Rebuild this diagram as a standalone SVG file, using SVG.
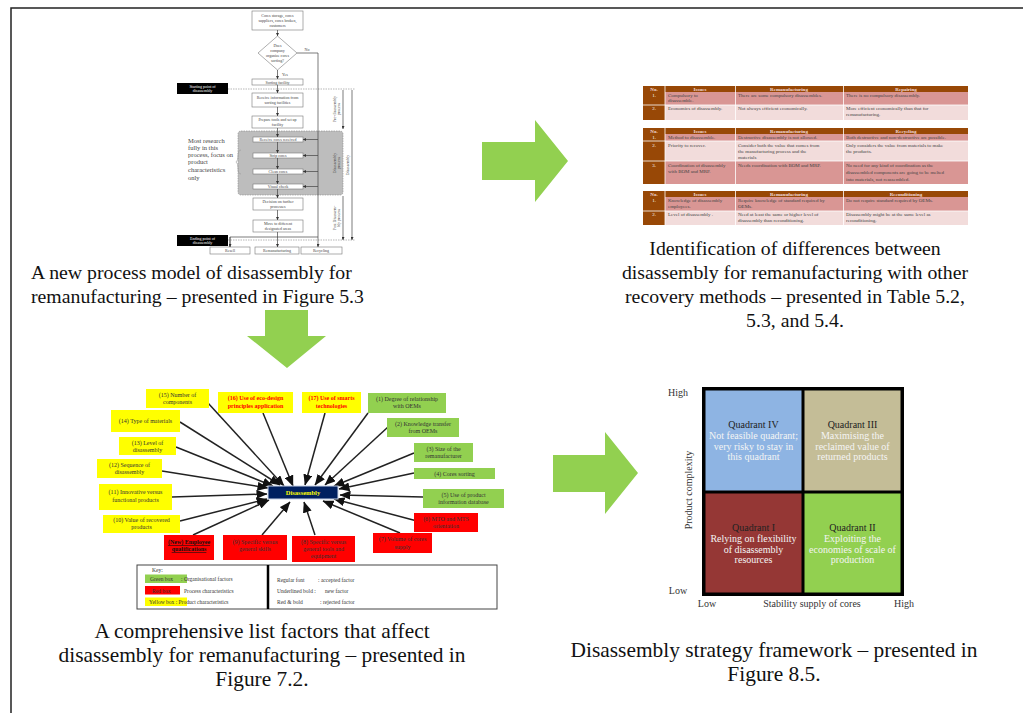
<svg xmlns="http://www.w3.org/2000/svg" width="1023" height="713" viewBox="0 0 1023 713">
<defs>
  <marker id="ah" markerUnits="userSpaceOnUse" markerWidth="11" markerHeight="9" refX="10.5" refY="4.5" orient="auto">
    <path d="M0,0 L11,4.5 L0,9 Z" fill="#111"/>
  </marker>
  <marker id="fa" markerUnits="userSpaceOnUse" markerWidth="3" markerHeight="3" refX="3" refY="1.5" orient="auto">
    <path d="M0,0 L3,1.5 L0,3 Z" fill="#333"/>
  </marker>
</defs>
<style>
  text { font-family: "Liberation Serif", "Times New Roman", serif; }
  .cap { font-size: 19.8px; fill: #111; }
  .cap.lg { font-size: 21.4px; }
  .fc .b { fill: #fff; stroke: #777; stroke-width: 0.6; }
  .fc .k { fill: #000; }
  .fc text { font-size: 4px; fill: #444; text-anchor: middle; }
  .fc .kt { fill: #fff; }
  .fc .ln { stroke: #444; stroke-width: 0.7; fill: none; }
  .fc .dash { stroke: #888; stroke-width: 0.6; stroke-dasharray: 1.5 1; }
  .tb text { font-size: 5px; fill: #444; }
  .tb .h { fill: #984806; }
  .tb .d { fill: #d99694; }
  .tb .l { fill: #f2dcdb; }
  .tb .ht { fill: #f2dcdb; font-weight: bold; text-anchor: middle; }
  .tb .nt { fill: #fff; text-anchor: middle; }
  .blk { fill: #92d050; }
  .fb text { font-size: 6px; fill: #333; text-anchor: middle; }
  .fb .rj { fill: #ff0000; font-weight: bold; }
  .fb .nw { fill: #111; font-weight: bold; text-decoration: underline; }
  .y { fill: #ffff00; }
  .r { fill: #ff0000; }
  .g { fill: #92d050; }
  .conn line { stroke: #222; stroke-width: 1.5; marker-end: url(#ah); }
  .key text { font-size: 5.5px; fill: #333; }
  .q text { font-size: 10px; text-anchor: middle; }
  .q .qt { fill: #222; }
  .q .qw { fill: #f4f4f4; }
  .ax { font-size: 9.5px; fill: #333; }
</style>

<!-- page frame -->
<path d="M11,713 L11,8 L1023,8" fill="none" stroke="#222" stroke-width="1.5"/>

<!-- process model flowchart -->
<g id="process-model" class="fc">
  <rect x="238" y="131" width="105" height="64" rx="3" fill="#bdbdbd" stroke="#888" stroke-width="0.6" stroke-dasharray="1.5 1"/>
  <path d="M241,150 Q238,150 238,156 Q238,161 236,162 Q238,163 238,168 Q238,174 241,174" fill="none" stroke="#999" stroke-width="0.6"/>

  <rect class="b" x="252" y="11" width="51" height="19"/>
  <text x="277.5" y="17">Cores storage, cores</text>
  <text x="277.5" y="22">suppliers, cores broken,</text>
  <text x="277.5" y="27">customers</text>

  <polygon class="b" points="277.5,36 297,53 277.5,70 258,53"/>
  <text x="277.5" y="47">Does</text>
  <text x="277.5" y="52">company</text>
  <text x="277.5" y="57">organize cores</text>
  <text x="277.5" y="62">sorting?</text>
  <text x="307" y="51">No</text>
  <text x="285" y="76">Yes</text>

  <rect class="b" x="252" y="79" width="51" height="6"/>
  <text x="277.5" y="83.5">Sorting facility</text>
  <rect class="b" x="252" y="93" width="51" height="14"/>
  <text x="277.5" y="99">Receive information from</text>
  <text x="277.5" y="104">sorting facilities</text>
  <rect class="b" x="252" y="116" width="51" height="12"/>
  <text x="277.5" y="121">Prepare tools and set up</text>
  <text x="277.5" y="126">facility</text>

  <rect class="b" x="253" y="137" width="50" height="5"/>
  <text x="278" y="141">Receive cores received</text>
  <rect class="b" x="253" y="153" width="50" height="5"/>
  <text x="278" y="157">Strip cores</text>
  <rect class="b" x="253" y="169" width="50" height="5"/>
  <text x="278" y="173">Clean cores</text>
  <rect class="b" x="253" y="184" width="50" height="5"/>
  <text x="278" y="188">Visual check</text>

  <rect class="b" x="253" y="198" width="50" height="12"/>
  <text x="278" y="203">Decision on further</text>
  <text x="278" y="208">processes</text>
  <rect class="b" x="253" y="220" width="50" height="12"/>
  <text x="278" y="225">Move to different</text>
  <text x="278" y="230">designated areas</text>

  <rect class="b" x="210" y="247" width="40" height="7"/>
  <text x="230" y="252">Resell</text>
  <rect class="b" x="255" y="247" width="44" height="7"/>
  <text x="277" y="252">Remanufacturing</text>
  <rect class="b" x="301" y="247" width="41" height="7"/>
  <text x="321" y="252">Recycling</text>

  <rect class="k" x="177" y="83" width="51" height="11"/>
  <text class="kt" x="202.5" y="87.5">Starting point of</text>
  <text class="kt" x="202.5" y="92">disassembly</text>
  <rect class="k" x="177" y="235" width="51" height="11"/>
  <text class="kt" x="202.5" y="239.5">Ending point of</text>
  <text class="kt" x="202.5" y="244">disassembly</text>

  <line class="dash" x1="228" y1="89" x2="355" y2="89"/>
  <line class="dash" x1="228" y1="240" x2="355" y2="240"/>

  <g class="ln">
    <line x1="277.5" y1="30" x2="277.5" y2="36" marker-end="url(#fa)"/>
    <line x1="277.5" y1="70" x2="277.5" y2="79" marker-end="url(#fa)"/>
    <line x1="277.5" y1="85" x2="277.5" y2="93" marker-end="url(#fa)"/>
    <line x1="277.5" y1="107" x2="277.5" y2="116" marker-end="url(#fa)"/>
    <line x1="277.5" y1="128" x2="277.5" y2="137" marker-end="url(#fa)"/>
    <line x1="277.5" y1="142" x2="277.5" y2="153" marker-end="url(#fa)"/>
    <line x1="277.5" y1="158" x2="277.5" y2="169" marker-end="url(#fa)"/>
    <line x1="277.5" y1="174" x2="277.5" y2="184" marker-end="url(#fa)"/>
    <line x1="277.5" y1="189" x2="277.5" y2="198" marker-end="url(#fa)"/>
    <line x1="277.5" y1="210" x2="277.5" y2="220" marker-end="url(#fa)"/>
    <line x1="277.5" y1="232" x2="277.5" y2="247" marker-end="url(#fa)"/>
    <polyline points="230,247 230,237 318,237"/>
    <line x1="230" y1="237" x2="230" y2="247" marker-end="url(#fa)"/>
    <polyline points="297,53 318,53 318,247" marker-end="url(#fa)"/>
    <line x1="318" y1="139.5" x2="303" y2="139.5" marker-end="url(#fa)"/>
    <line x1="318" y1="155.5" x2="303" y2="155.5" marker-end="url(#fa)"/>
    <line x1="318" y1="171.5" x2="303" y2="171.5" marker-end="url(#fa)"/>
    <line x1="318" y1="186.5" x2="303" y2="186.5" marker-end="url(#fa)"/>
    <line x1="343" y1="90" x2="343" y2="129" marker-end="url(#fa)"/>
    <line x1="343" y1="196" x2="343" y2="240" marker-end="url(#fa)"/>
    <line x1="352" y1="90" x2="352" y2="240" marker-end="url(#fa)"/>
  </g>

  <text transform="translate(336,109) rotate(-90)">Pre-disassembly</text>
  <text transform="translate(340,109) rotate(-90)">process</text>
  <text transform="translate(336,163) rotate(-90)">Disassembly</text>
  <text transform="translate(340,163) rotate(-90)">process</text>
  <text transform="translate(336,218) rotate(-90)">Post Disassem-</text>
  <text transform="translate(340,218) rotate(-90)">bly process</text>
  <text transform="translate(349,165) rotate(-90)">Disassembly</text>

  <g style="font-size:6.5px;text-anchor:start;fill:#333">
    <text x="188" y="143" style="font-size:6.5px;text-anchor:start">Most research</text>
    <text x="188" y="150" style="font-size:6.5px;text-anchor:start">fully in this</text>
    <text x="188" y="157" style="font-size:6.5px;text-anchor:start">process, focus on</text>
    <text x="188" y="164" style="font-size:6.5px;text-anchor:start">product</text>
    <text x="188" y="172" style="font-size:6.5px;text-anchor:start">characteristics</text>
    <text x="188" y="180" style="font-size:6.5px;text-anchor:start">only</text>
  </g>
</g>

<g id="caption-process" class="cap">
  <text x="31" y="279">A new process model of disassembly for</text>
  <text x="31" y="303">remanufacturing – presented in Figure 5.3</text>
</g>

<!-- comparison tables -->
<g id="tables" class="tb">
  <!-- table: repairing -->
  <rect class="h" x="643" y="86" width="325" height="6"/>
  <rect class="d" x="665" y="92" width="303" height="13"/>
  <rect class="l" x="665" y="105" width="303" height="15"/>
  <rect class="h" x="643" y="92" width="22" height="28"/>
  <g stroke="#fff" stroke-width="0.8">
    <line x1="665" y1="86" x2="665" y2="120"/><line x1="735.5" y1="86" x2="735.5" y2="120"/><line x1="843.5" y1="86" x2="843.5" y2="120"/>
    <line x1="643" y1="105" x2="968" y2="105"/>
  </g>
  <text class="ht" x="654" y="91">No.</text><text class="ht" x="700" y="91">Issues</text><text class="ht" x="789" y="91">Remanufacturing</text><text class="ht" x="906" y="91">Repairing</text>
  <text class="nt" x="654" y="97">1.</text>
  <text x="668" y="97">Compulsory to</text><text x="668" y="102">disassemble.</text>
  <text x="738" y="97">There are some compulsory disassembles.</text>
  <text x="846" y="97">There is no compulsory disassembly.</text>
  <text class="nt" x="654" y="110">2.</text>
  <text x="668" y="110">Economics of disassembly.</text>
  <text x="738" y="110">Not always efficient economically.</text>
  <text x="846" y="110">More efficient economically than that for</text><text x="846" y="116">remanufacturing.</text>

  <!-- table: recycling -->
  <rect class="h" x="643" y="128" width="325" height="6"/>
  <rect class="d" x="665" y="134" width="303" height="7"/>
  <rect class="l" x="665" y="141" width="303" height="20"/>
  <rect class="d" x="665" y="161" width="303" height="23"/>
  <rect class="h" x="643" y="134" width="22" height="50"/>
  <g stroke="#fff" stroke-width="0.8">
    <line x1="665" y1="128" x2="665" y2="184"/><line x1="735.5" y1="128" x2="735.5" y2="184"/><line x1="843.5" y1="128" x2="843.5" y2="184"/>
    <line x1="643" y1="141" x2="968" y2="141"/><line x1="643" y1="161" x2="968" y2="161"/>
  </g>
  <text class="ht" x="654" y="133">No.</text><text class="ht" x="700" y="133">Issues</text><text class="ht" x="789" y="133">Remanufacturing</text><text class="ht" x="906" y="133">Recycling</text>
  <text class="nt" x="654" y="139">1.</text>
  <text x="668" y="139">Method to disassemble.</text>
  <text x="738" y="139">Destructive disassembly is not allowed.</text>
  <text x="846" y="139">Both destructive and non-destructive are possible.</text>
  <text class="nt" x="654" y="147">2.</text>
  <text x="668" y="147">Priority to recover.</text>
  <text x="738" y="147">Consider both the value that comes from</text><text x="738" y="153">the manufacturing process and the</text><text x="738" y="159">materials</text>
  <text x="846" y="147">Only considers the value from materials to make</text><text x="846" y="153">the products.</text>
  <text class="nt" x="654" y="167">3.</text>
  <text x="668" y="167">Coordination of disassembly</text><text x="668" y="173">with BOM and MRP.</text>
  <text x="738" y="167">Needs coordination with BOM and MRP.</text>
  <text x="846" y="167">No need for any kind of coordination as the</text><text x="846" y="174">disassembled components are going to be melted</text><text x="846" y="181">into materials, not reassembled.</text>

  <!-- table: reconditioning -->
  <rect class="h" x="643" y="191" width="325" height="6"/>
  <rect class="d" x="665" y="197" width="303" height="14"/>
  <rect class="l" x="665" y="211" width="303" height="14"/>
  <rect class="h" x="643" y="197" width="22" height="28"/>
  <g stroke="#fff" stroke-width="0.8">
    <line x1="665" y1="191" x2="665" y2="225"/><line x1="735.5" y1="191" x2="735.5" y2="225"/><line x1="843.5" y1="191" x2="843.5" y2="225"/>
    <line x1="643" y1="211" x2="968" y2="211"/>
  </g>
  <text class="ht" x="654" y="196">No.</text><text class="ht" x="700" y="196">Issues</text><text class="ht" x="789" y="196">Remanufacturing</text><text class="ht" x="906" y="196">Reconditioning</text>
  <text class="nt" x="654" y="202">1.</text>
  <text x="668" y="202">Knowledge of disassembly</text><text x="668" y="208">employees.</text>
  <text x="738" y="202">Require knowledge of standard required by</text><text x="738" y="208">OEMs.</text>
  <text x="846" y="202">Do not require standard required by OEMs.</text>
  <text class="nt" x="654" y="216">2.</text>
  <text x="668" y="216">Level of disassembly .</text>
  <text x="738" y="216">Need at least the same or higher level of</text><text x="738" y="222">disassembly than reconditioning.</text>
  <text x="846" y="216">Disassembly might be at the same level as</text><text x="846" y="222">reconditioning.</text>
</g>

<g id="caption-tables" class="cap" text-anchor="middle">
  <text x="795" y="255">Identification of differences between</text>
  <text x="795" y="279">disassembly for remanufacturing with other</text>
  <text x="795" y="303">recovery methods – presented in Table 5.2,</text>
  <text x="795" y="327">5.3, and 5.4.</text>
</g>

<!-- block arrows between panels -->
<g id="block-arrows">
  <path class="blk" d="M482,142 L535,142 L535,120 L568,161 L535,202 L535,180 L482,180 Z"/>
  <path class="blk" d="M265,310 L308,310 L308,336 L326,336 L287,368 L247,336 L265,336 Z"/>
  <path class="blk" d="M553,455 L605,455 L605,432 L638,473 L605,514 L605,492 L553,492 Z"/>
</g>

<!-- factors affecting disassembly -->
<g id="factor-connectors" class="conn">
  <line x1="208" y1="403" x2="284" y2="486"/>
  <line x1="263" y1="413" x2="293" y2="486"/>
  <line x1="325" y1="413" x2="305" y2="485"/>
  <line x1="180" y1="422" x2="280" y2="485"/>
  <line x1="176" y1="447" x2="273" y2="486"/>
  <line x1="162" y1="471" x2="268" y2="488"/>
  <line x1="172" y1="497" x2="267" y2="494"/>
  <line x1="180" y1="521" x2="267" y2="499"/>
  <line x1="193" y1="535" x2="269" y2="500"/>
  <line x1="262" y1="535" x2="290" y2="502"/>
  <line x1="315" y1="535" x2="304" y2="502"/>
  <line x1="400" y1="533" x2="323" y2="501"/>
  <line x1="417" y1="521" x2="334" y2="499"/>
  <line x1="423" y1="497" x2="340" y2="495"/>
  <line x1="414" y1="473" x2="339" y2="489"/>
  <line x1="414" y1="453" x2="334" y2="486"/>
  <line x1="388" y1="427" x2="325" y2="485"/>
  <line x1="368" y1="413" x2="315" y2="485"/>
</g>

<g id="disassembly">
  <rect x="268" y="486" width="70" height="13" fill="#002060" stroke="#c8d2e6" stroke-width="1"/>
  <text x="303" y="494.5" text-anchor="middle" font-size="6.5" font-weight="bold" fill="#ffff00">Disassembly</text>
</g>

<g id="f15" class="fb"><rect class="y" x="146" y="389" width="63" height="19"/><text x="177.5" y="397">(15) Number of</text><text x="177.5" y="404">components</text></g>
<g id="f16" class="fb"><rect class="y" x="218" y="392" width="75" height="21"/><text class="rj" x="255.5" y="400">(16) Use of eco-design</text><text class="rj" x="255.5" y="408">principles application</text></g>
<g id="f17" class="fb"><rect class="y" x="302" y="392" width="59" height="21"/><text class="rj" x="331.5" y="400">(17) Use of smarts</text><text class="rj" x="331.5" y="408">technologies</text></g>
<g id="f14" class="fb"><rect class="y" x="111" y="410" width="69" height="22"/><text x="145.5" y="423">(14) Type of materials</text></g>
<g id="f13" class="fb"><rect class="y" x="119" y="437" width="57" height="18"/><text x="147.5" y="445">(13) Level of</text><text x="147.5" y="452">disassembly</text></g>
<g id="f12" class="fb"><rect class="y" x="97" y="459" width="65" height="19"/><text x="129.5" y="467">(12) Sequence of</text><text x="129.5" y="474">disassembly</text></g>
<g id="f11" class="fb"><rect class="y" x="99" y="484" width="73" height="26"/><text x="135.5" y="494">(11) Innovative versus</text><text x="135.5" y="502">functional products</text></g>
<g id="f10" class="fb"><rect class="y" x="103" y="515" width="77" height="18"/><text x="141.5" y="522">(10) Value of recovered</text><text x="141.5" y="529">products</text></g>
<g id="fnew" class="fb"><rect class="r" x="164" y="535" width="50" height="25"/><text class="nw" x="189" y="544">(New) Employee</text><text class="nw" x="189" y="551">qualifications</text></g>
<g id="f9" class="fb"><rect class="r" x="223" y="535" width="64" height="25"/><text x="255" y="544">(9) Specific versus</text><text x="255" y="551">general skills</text></g>
<g id="f8" class="fb"><rect class="r" x="292" y="536" width="63" height="26"/><text x="323.5" y="544">(8)  Specific versus</text><text x="323.5" y="551">general tools and</text><text x="323.5" y="558">equipment</text></g>
<g id="f7" class="fb"><rect class="r" x="373" y="533" width="59" height="20"/><text x="402.5" y="541">(7) Volume of cores</text><text x="402.5" y="549">supply</text></g>
<g id="f6" class="fb"><rect class="r" x="414" y="513" width="64" height="19"/><text x="446" y="521">(6) MTO and MTS</text><text x="446" y="528">orientation</text></g>
<g id="f5" class="fb"><rect class="g" x="423" y="489" width="81" height="19"/><text x="463.5" y="497">(5) Use of product</text><text x="463.5" y="504">information database</text></g>
<g id="f4" class="fb"><rect class="g" x="414" y="468" width="81" height="11"/><text x="454.5" y="475.5">(4) Cores sorting</text></g>
<g id="f3" class="fb"><rect class="g" x="414" y="443" width="59" height="19"/><text x="443.5" y="451">(3) Size of the</text><text x="443.5" y="458">remanufacturer</text></g>
<g id="f2" class="fb"><rect class="g" x="387" y="418" width="72" height="19"/><text x="423" y="426">(2) Knowledge transfer</text><text x="423" y="433">from OEMs</text></g>
<g id="f1" class="fb"><rect class="g" x="368" y="393" width="78" height="20"/><text x="407" y="401">(1) Degree of relationship</text><text x="407" y="408">with OEMs</text></g>

<g id="key" class="key">
  <rect x="137" y="565" width="360" height="44" fill="#fff" stroke="#444" stroke-width="1"/>
  <line x1="268" y1="565" x2="268" y2="609" stroke="#000" stroke-width="2.5"/>
  <text x="152" y="572">Key:</text>
  <rect class="g" x="145" y="574.5" width="42" height="8.5"/>
  <text x="150" y="581">Green box</text><text x="181" y="581">: Organisational factors</text>
  <rect class="r" x="145" y="586" width="35" height="8.5"/>
  <text x="152" y="592.5">Red box</text><text x="184" y="592.5">Process characteristics</text>
  <rect class="y" x="145" y="597.5" width="42" height="8.5"/>
  <text x="149" y="604">Yellow box : Product characteristics</text>
  <text x="277" y="582">Regular font</text><text x="318" y="582">: accepted factor</text>
  <text x="277" y="593">Underlined bold :</text><text x="325" y="593">new factor</text>
  <text x="277" y="604">Red &amp; bold</text><text x="320" y="604">: rejected factor</text>
</g>

<g id="caption-factors" class="cap lg" text-anchor="middle">
  <text x="262" y="638">A comprehensive list factors that affect</text>
  <text x="262" y="662">disassembly for remanufacturing – presented in</text>
  <text x="262" y="686">Figure 7.2.</text>
</g>

<!-- strategy framework quadrants -->
<g id="strategy-framework" class="q">
  <rect x="702" y="387" width="202" height="209" fill="#000"/>
  <rect x="705.5" y="390.5" width="96" height="100" fill="#8eb4e3"/>
  <rect x="804.5" y="390.5" width="96" height="100" fill="#c4bd97"/>
  <rect x="705.5" y="493.5" width="96" height="99" fill="#953735"/>
  <rect x="804.5" y="493.5" width="96" height="99" fill="#92d050"/>
  <text class="qt" x="753.5" y="428">Quadrant IV</text>
  <text class="qw" x="753.5" y="439">Not feasible quadrant;</text>
  <text class="qw" x="753.5" y="450">very risky to stay in</text>
  <text class="qw" x="753.5" y="460">this quadrant</text>
  <text class="qt" x="852.5" y="428">Quadrant III</text>
  <text class="qw" x="852.5" y="439">Maximising the</text>
  <text class="qw" x="852.5" y="450">reclaimed value of</text>
  <text class="qw" x="852.5" y="460">returned products</text>
  <text class="qt" x="753.5" y="531">Quadrant I</text>
  <text class="qw" x="753.5" y="542">Relying on flexibility</text>
  <text class="qw" x="753.5" y="553">of disassembly</text>
  <text class="qw" x="753.5" y="563">resources</text>
  <text class="qt" x="852.5" y="531">Quadrant II</text>
  <text class="qw" x="852.5" y="542">Exploiting the</text>
  <text class="qw" x="852.5" y="553">economies of scale of</text>
  <text class="qw" x="852.5" y="563">production</text>
  <text class="ax" x="678" y="396" text-anchor="start">High</text>
  <text class="ax" x="678" y="594" text-anchor="start">Low</text>
  <text class="ax" x="707" y="607" text-anchor="start">Low</text>
  <text class="ax" x="812" y="607">Stability supply of cores</text>
  <text class="ax" x="904" y="607" text-anchor="end">High</text>
  <text class="ax" transform="translate(692,490) rotate(-90)">Product complexity</text>
</g>

<g id="caption-framework" class="cap lg" text-anchor="middle">
  <text x="774" y="657">Disassembly strategy framework – presented in</text>
  <text x="774" y="681">Figure 8.5.</text>
</g>
</svg>
